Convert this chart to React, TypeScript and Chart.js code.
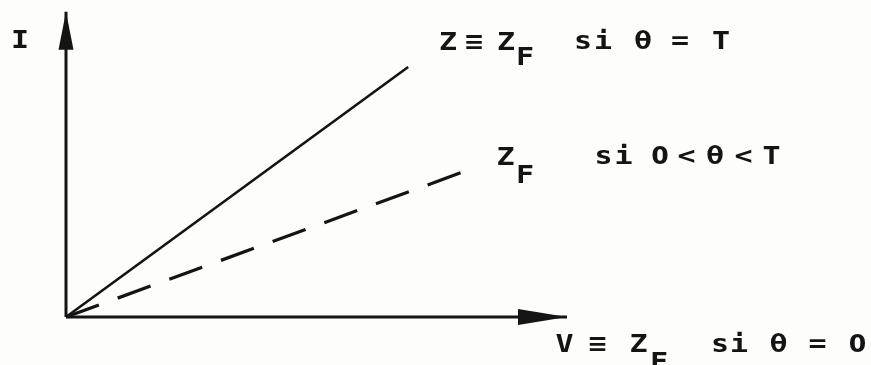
import React, { useEffect, useRef } from "react";
import { Chart, registerables } from "chart.js";

Chart.register(...registerables);

// ---- data (abstract V / I units) ----
const vAxis = [0, 10];
const iAxis = [0, 6.09];
const solidV = [0, 6.83];
const solidI = [0, 4.99];
const dashedV = [0, 8.02];
const dashedI = [0, 2.93];

// ---- scale window ----
const X_MIN = -1.3174;
const X_MAX = 16.068;
const Y_MIN = -0.958;
const Y_MAX = 6.327;

// ---- annotation text (each glyph placed like the plotter output) ----
type Piece = { text: string; cx: (number | null)[]; base: number };
const LABELS: Piece[] = [
  { text: "I", cx: [20], base: 48 },
  { text: "Z ≡ Z", cx: [448, null, 474, null, 506], base: 50 },
  { text: "F", cx: [525], base: 65 },
  { text: "si θ = T", cx: [583, 603, null, 643, null, 680, null, 721], base: 49 },
  { text: "Z", cx: [505.5], base: 165 },
  { text: "F", cx: [525], base: 183 },
  { text: "si 0<θ<T", cx: [603.5, 623.5, null, 660, 686.5, 715, 743.5, 771.5], base: 164 },
  { text: "V ≡ Z", cx: [564.5, null, 597.5, null, 638.5], base: 352 },
  { text: "F", cx: [659], base: 370 },
  { text: "si θ = 0", cx: [720, 739, null, 778.5, null, 817.5, null, 857.5], base: 352 },
];

const INK = "#141414";

const toXY = (xs: number[], ys: number[]) => xs.map((x, i) => ({ x, y: ys[i] }));

const decorPlugin = {
  id: "decor",
  afterDatasetsDraw(chart: any) {
    const ctx: CanvasRenderingContext2D = chart.ctx;
    const xs = chart.scales.x;
    const ys = chart.scales.y;
    ctx.save();
    ctx.fillStyle = INK;
    // arrowhead on V axis
    const tx = xs.getPixelForValue(vAxis[1]);
    const ty = ys.getPixelForValue(0);
    ctx.beginPath();
    ctx.moveTo(tx, ty);
    ctx.lineTo(tx - 49, ty - 8);
    ctx.lineTo(tx - 49, ty + 8);
    ctx.closePath();
    ctx.fill();
    // arrowhead on I axis
    const ax = xs.getPixelForValue(0);
    const ay = ys.getPixelForValue(iAxis[1]);
    ctx.beginPath();
    ctx.moveTo(ax, ay);
    ctx.lineTo(ax - 7.5, ay + 38);
    ctx.lineTo(ax + 7.5, ay + 38);
    ctx.closePath();
    ctx.fill();

    // labels
    ctx.textAlign = "center";
    ctx.textBaseline = "alphabetic";
    for (const p of LABELS) {
      const chars = Array.from(p.text);
      chars.forEach((ch, i) => {
        const cx = p.cx[i];
        if (cx == null || ch === " ") return;
        ctx.save();
        ctx.translate(cx, p.base);
        if (ch === "0") {
          ctx.scale(1.05, 1);
          ctx.font = "600 24px 'DejaVu Sans'";
        } else {
          ctx.scale(1.2, 1);
          ctx.font = "bold 25px 'DejaVu Sans Mono'";
        }
        ctx.fillText(ch, 0, 0);
        ctx.restore();
      });
    }
    ctx.restore();
  },
};

export default function App() {
  const ref = useRef<HTMLCanvasElement | null>(null);
  useEffect(() => {
    if (!ref.current) return;
    const chart = new Chart(ref.current, {
      type: "scatter",
      data: {
        datasets: [
          {
            label: "V",
            data: toXY(vAxis, [0, 0]),
            showLine: true,
            borderColor: INK,
            borderWidth: 3,
            pointRadius: 0,
          },
          {
            label: "I",
            data: toXY([0, 0], iAxis),
            showLine: true,
            borderColor: INK,
            borderWidth: 3,
            pointRadius: 0,
          },
          {
            label: "Z ≡ Zf si θ = T",
            data: toXY(solidV, solidI),
            showLine: true,
            borderColor: INK,
            borderWidth: 2.6,
            pointRadius: 0,
          },
          {
            label: "Zf si 0 < θ < T",
            data: toXY(dashedV, dashedI),
            showLine: true,
            borderColor: INK,
            borderWidth: 3.2,
            borderDash: [35, 20],
            pointRadius: 0,
          },
        ],
      },
      options: {
        animation: false,
        responsive: false,
        layout: { padding: 0 },
        plugins: { legend: { display: false }, tooltip: { enabled: false } },
        scales: {
          x: { type: "linear", display: false, min: X_MIN, max: X_MAX },
          y: { type: "linear", display: false, min: Y_MIN, max: Y_MAX },
        },
      },
      plugins: [decorPlugin],
    });
    return () => chart.destroy();
  }, []);
  return (
    <div style={{ position: "fixed", left: 0, top: 0, width: 871, height: 365, background: "#fdfdfb" }}>
      <canvas ref={ref} width={871} height={365} style={{ display: "block" }} />
    </div>
  );
}
